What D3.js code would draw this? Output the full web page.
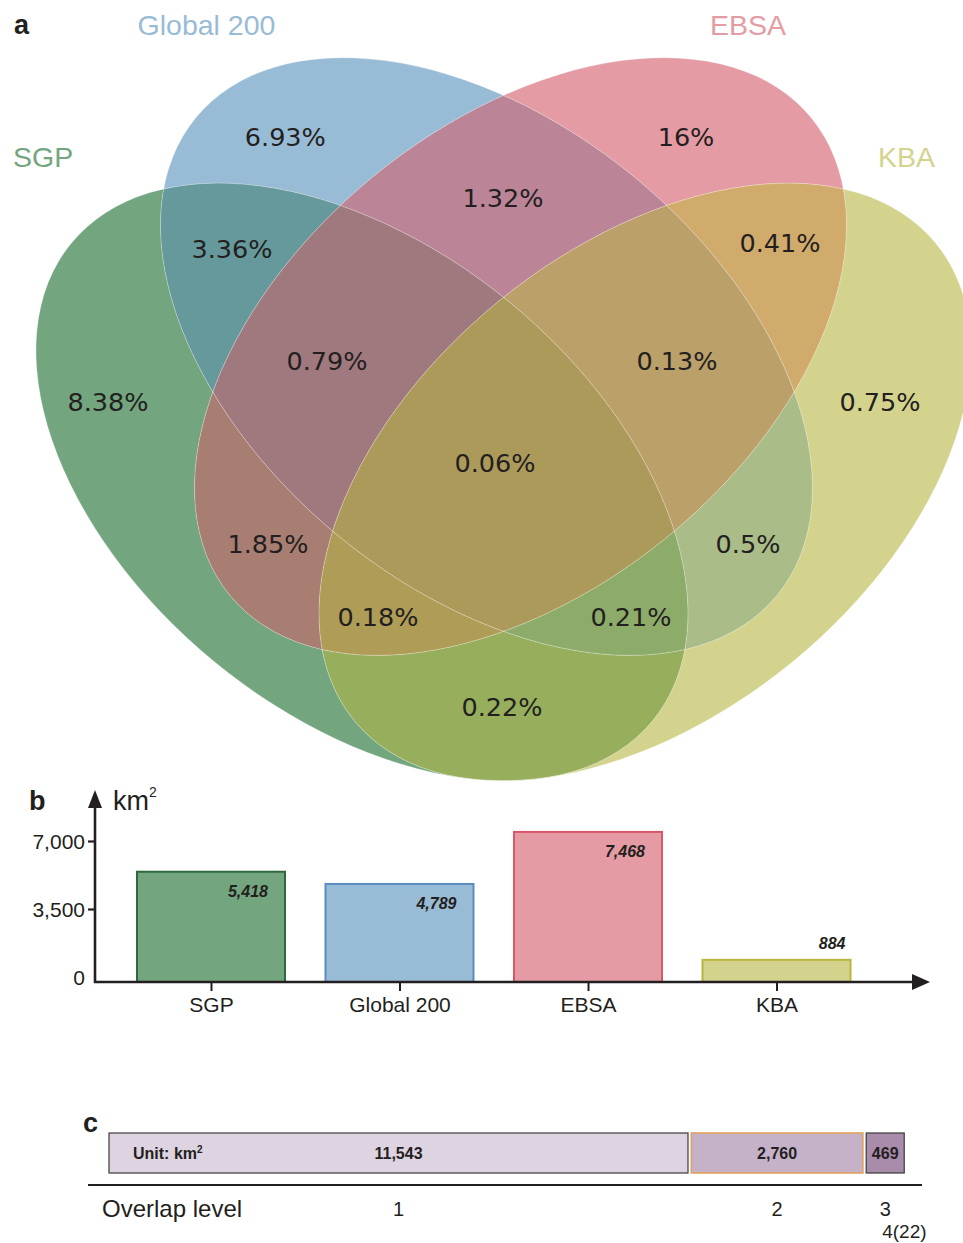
<!DOCTYPE html>
<html>
<head>
<meta charset="utf-8">
<script src="https://cdn.jsdelivr.net/npm/d3@7"></script>
<style>
  html, body { margin: 0; padding: 0; background: #fff; }
  svg { display: block; }
</style>
</head>
<body>
<script>
// ---------- data ----------
const sets = ["SGP", "Global 200", "EBSA", "KBA"];

// Venn regions: which sets each region belongs to, and its share (%)
const regionSets = [
  [0], [1], [2], [3],
  [0, 1], [1, 2], [2, 3], [0, 2], [1, 3], [0, 3],
  [0, 1, 2], [1, 2, 3], [0, 2, 3], [0, 1, 3],
  [0, 1, 2, 3]
];
const regionShares = [8.38, 6.93, 16, 0.75, 3.36, 1.32, 0.41, 1.85, 0.5, 0.22, 0.79, 0.13, 0.18, 0.21, 0.06];

// Panel b: area of each designation (km²)
const areaKm2 = [5418, 4789, 7468, 884];
const areaTicks = [0, 3500, 7000];

// Panel c: area by overlap level (km²)
const overlapLevels = ["1", "2", "3"];
const overlapAreas = [11543, 2760, 469];
const overlapLevel4 = "4(22)";

// ---------- styles ----------
const setColors = ["#73A57E", "#99BCD6", "#E59BA3", "#D3D38D"];
const barStroke = ["#2F6A3E", "#5A8DBF", "#D9566A", "#B7B63E"];
const regionColors = [
  "#73A57E", "#99BCD6", "#E59BA3", "#D3D38D",
  "#66999B", "#BB8597", "#D1AB6C", "#A87E73", "#AABC88", "#97AF5C",
  "#A0797F", "#BCA06A", "#AF9C56", "#8DAC69",
  "#AC9A5A"
];
const segFill = ["#DED4E1", "#C6B2C8", "#A98BAB"];
const segStroke = ["#3A3A3A", "#E0A25C", "#3A3A3A"];
const ink = "#231F20";

const W = 963, H = 1243;
const svg = d3.select("body").append("svg").attr("width", W).attr("height", H)
  .style("font-family", "'Liberation Sans', Arial, sans-serif");
const defs = svg.append("defs");

// ---------- panel a: four-ellipse Venn ----------
// Venn frame: origin on the symmetry axis, y measured from the panel top
const vx = d3.scaleLinear().domain([-1, 1]).range([503.5 - 470, 503.5 + 470]);
const vy = d3.scaleLinear().domain([0, 1]).range([0, 780]);
const pxPerUnit = 470;

// ellipse layout (frame units): centre, semi-axes, rotation
const ellipses = [
  { cx: -0.3011, cy: 0.6179, rx: 0.8004, ry: 0.4949, rot: 39.4 },
  { cx: -0.0362, cy: 0.4571, rx: 0.8004, ry: 0.4949, rot: 39.4 },
  { cx: 0.0362, cy: 0.4571, rx: 0.8004, ry: 0.4949, rot: -39.4 },
  { cx: 0.3011, cy: 0.6179, rx: 0.8004, ry: 0.4949, rot: -39.4 }
];

function addEllipse(sel, e) {
  const cx = vx(e.cx), cy = vy(e.cy);
  return sel.append("ellipse")
    .attr("cx", cx).attr("cy", cy)
    .attr("rx", e.rx * pxPerUnit).attr("ry", e.ry * pxPerUnit)
    .attr("transform", `rotate(${e.rot} ${cx} ${cy})`);
}

ellipses.forEach((e, i) => {
  addEllipse(defs.append("clipPath").attr("id", `clip-${i}`), e);
});

regionSets.forEach((s, r) => {
  const m = defs.append("mask").attr("id", `mask-${r}`)
    .attr("maskUnits", "userSpaceOnUse")
    .attr("x", 0).attr("y", 0).attr("width", W).attr("height", 800);
  m.append("rect").attr("x", 0).attr("y", 0).attr("width", W).attr("height", 800).attr("fill", "#fff");
  ellipses.forEach((e, i) => {
    if (!s.includes(i)) addEllipse(m, e).attr("fill", "#000");
  });
});

const venn = svg.append("g");
regionSets.forEach((s, r) => {
  let g = venn;
  s.forEach(i => { g = g.append("g").attr("clip-path", `url(#clip-${i})`); });
  g.append("rect")
    .attr("x", 0).attr("y", 0).attr("width", W).attr("height", 800)
    .attr("fill", regionColors[r])
    .attr("mask", `url(#mask-${r})`);
});

// faint seams along the ellipse outlines
ellipses.forEach(e => {
  addEllipse(venn, e).attr("fill", "none")
    .attr("stroke", "#fff").attr("stroke-opacity", 0.35).attr("stroke-width", 0.8);
});

// label anchors for each region (frame units)
const regionLabelPos = [
  [-0.8415, 0.5154], [-0.4642, 0.1756], [0.3883, 0.1756], [0.8011, 0.5154],
  [-0.5777, 0.3192], [-0.0011, 0.2538], [0.5883, 0.3115], [-0.5011, 0.6974], [0.5202, 0.6974], [-0.0032, 0.9064],
  [-0.3756, 0.4628], [0.3692, 0.4628], [-0.2670, 0.7910], [0.2713, 0.7910],
  [-0.0181, 0.5936]
];
const vennFont = 25.5;
venn.append("g").selectAll("text")
  .data(regionShares)
  .join("text")
  .attr("x", (d, i) => vx(regionLabelPos[i][0]))
  .attr("y", (d, i) => vy(regionLabelPos[i][1]) + vennFont * 0.36)
  .attr("text-anchor", "middle")
  .attr("font-family", "'DejaVu Sans', sans-serif")
  .attr("font-size", vennFont)
  .attr("fill", ink)
  .text(d => `${d}%`);

// set names
const setLabelPos = [[-1.0436, 0.2013, "start"], [-0.6319, 0.0321, "middle"], [0.5202, 0.0321, "middle"], [0.7968, 0.2013, "start"]];
svg.append("g").selectAll("text")
  .data(sets)
  .join("text")
  .attr("x", (d, i) => vx(setLabelPos[i][0]))
  .attr("y", (d, i) => vy(setLabelPos[i][1]) + 10)
  .attr("text-anchor", (d, i) => setLabelPos[i][2])
  .attr("font-size", 28.5)
  .attr("fill", (d, i) => setColors[i])
  .text(d => d);

// panel letters
const panelLetters = [["a", 14, 34], ["b", 29, 810], ["c", 83, 1132]];
svg.append("g").selectAll("text")
  .data(panelLetters)
  .join("text")
  .attr("x", d => d[1]).attr("y", d => d[2])
  .attr("font-size", 27).attr("font-weight", "bold").attr("fill", ink)
  .text(d => d[0]);

// ---------- panel b: area per designation ----------
const axisX = 95, axisY = 982;
const xB = d3.scalePoint().domain(sets).range([211, 776.5]);
const yB = d3.scaleLinear().domain([0, 7000]).range([977, 841]);
const barW = 148;

const pb = svg.append("g");

pb.append("g").selectAll("rect")
  .data(areaKm2)
  .join("rect")
  .attr("x", (d, i) => xB(sets[i]) - barW / 2)
  .attr("y", d => yB(d))
  .attr("width", barW)
  .attr("height", d => axisY - yB(d))
  .attr("fill", (d, i) => setColors[i])
  .attr("stroke", (d, i) => barStroke[i])
  .attr("stroke-width", 2);

const fmt = d3.format(",");
pb.append("g").selectAll("text")
  .data(areaKm2)
  .join("text")
  .attr("x", (d, i) => xB(sets[i]) + barW / 2 - ((axisY - yB(d)) < 40 ? 5 : 17))
  .attr("y", d => (axisY - yB(d)) < 40 ? yB(d) - 11 : yB(d) + 25)
  .attr("text-anchor", "end")
  .attr("font-size", 16).attr("font-weight", "bold").attr("font-style", "italic")
  .attr("fill", ink)
  .text(d => fmt(d));

// y axis
const yAxis = pb.append("g").attr("transform", `translate(${axisX},0)`)
  .call(d3.axisLeft(yB).tickValues(areaTicks).tickFormat(fmt).tickSize(7).tickPadding(3));
yAxis.select(".domain").remove();
yAxis.selectAll(".tick line").attr("stroke", ink).attr("stroke-width", 2.2)
  .attr("x2", -7).attr("x1", 1)
  .filter(d => d === 0).remove();
yAxis.selectAll(".tick text").attr("font-size", 21).attr("fill", ink)
  .attr("font-family", "'Liberation Sans', Arial, sans-serif")
  .attr("dy", "0.36em");

// x axis
const xAxis = pb.append("g").attr("transform", `translate(0,${axisY})`)
  .call(d3.axisBottom(xB).tickSize(9).tickPadding(6));
xAxis.select(".domain").remove();
xAxis.selectAll(".tick line").attr("stroke", ink).attr("stroke-width", 2);
xAxis.selectAll(".tick text").attr("font-size", 21).attr("fill", ink)
  .attr("font-family", "'Liberation Sans', Arial, sans-serif");

// axis lines with arrow heads
pb.append("line").attr("x1", axisX).attr("x2", axisX).attr("y1", axisY + 1).attr("y2", 806)
  .attr("stroke", ink).attr("stroke-width", 2.6);
pb.append("path").attr("d", `M${axisX},790 L${axisX + 7},808 L${axisX - 7},808 Z`).attr("fill", ink);
pb.append("line").attr("x1", axisX - 1).attr("x2", 914).attr("y1", axisY).attr("y2", axisY)
  .attr("stroke", ink).attr("stroke-width", 2.6);
pb.append("path").attr("d", `M930,${axisY} L912,${axisY - 8} L912,${axisY + 8} Z`).attr("fill", ink);

// unit label
const unit = pb.append("text").attr("x", 113).attr("y", 810).attr("font-size", 27).attr("fill", ink);
unit.append("tspan").text("km");
unit.append("tspan").attr("font-size", 14).attr("dy", -13).text("2");

// ---------- panel c: area by overlap level ----------
const segH = 40, segY = 1133, segX0 = 109, segGap = 3.3;
const wC = d3.scalePow().exponent(0.85).domain([0, overlapAreas[0]]).range([0, 579]);
const segX = [];
overlapAreas.reduce((x, v, i) => { segX[i] = x; return x + wC(v) + segGap; }, segX0);

const pc = svg.append("g");
pc.append("g").selectAll("rect")
  .data(overlapAreas)
  .join("rect")
  .attr("x", (d, i) => segX[i])
  .attr("y", segY)
  .attr("width", d => wC(d))
  .attr("height", segH)
  .attr("fill", (d, i) => segFill[i])
  .attr("stroke", (d, i) => segStroke[i])
  .attr("stroke-width", (d, i) => i === 1 ? 1.6 : 1.2);

pc.append("g").selectAll("text")
  .data(overlapAreas)
  .join("text")
  .attr("x", (d, i) => segX[i] + wC(d) / 2)
  .attr("y", segY + segH / 2 + 6)
  .attr("text-anchor", "middle")
  .attr("font-size", 16).attr("font-weight", "bold").attr("fill", ink)
  .text(d => fmt(d));

const unitC = pc.append("text").attr("x", 133).attr("y", segY + segH / 2 + 6)
  .attr("font-size", 16).attr("font-weight", "bold").attr("fill", ink);
unitC.append("tspan").text("Unit: km");
unitC.append("tspan").attr("font-size", 10).attr("dy", -6).text("2");

pc.append("line").attr("x1", 88).attr("x2", 922).attr("y1", 1185).attr("y2", 1185)
  .attr("stroke", ink).attr("stroke-width", 2.2);

pc.append("text").attr("x", 102).attr("y", 1217).attr("font-size", 24).attr("fill", ink).text("Overlap level");

pc.append("g").selectAll("text")
  .data(overlapLevels)
  .join("text")
  .attr("x", (d, i) => segX[i] + wC(overlapAreas[i]) / 2)
  .attr("y", 1216)
  .attr("text-anchor", "middle")
  .attr("font-size", 20).attr("fill", ink)
  .text(d => d);

pc.append("text")
  .attr("x", segX[2] + wC(overlapAreas[2]) / 2 - 3)
  .attr("y", 1238)
  .attr("font-size", 19).attr("fill", ink)
  .text(overlapLevel4);
</script>
</body>
</html>
